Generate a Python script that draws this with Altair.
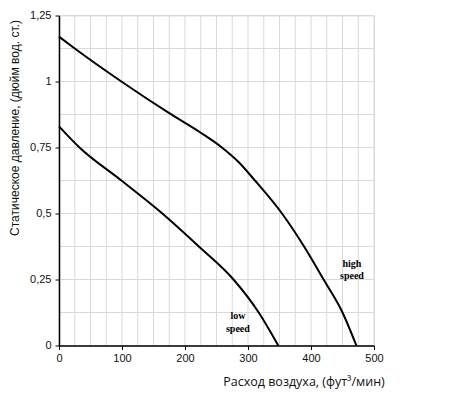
import altair as alt
import pandas as pd

# data
high_x = [0, 25, 99, 175, 225, 257, 285, 311, 354, 389, 420, 450, 472]
high_y = [1.17, 1.125, 1.0, 0.88, 0.806, 0.753, 0.695, 0.625, 0.5, 0.375, 0.25, 0.125, 0.0]
low_x = [0, 32.5, 99, 164, 222, 277, 317, 348]
low_y = [0.83, 0.75, 0.625, 0.5, 0.375, 0.25, 0.125, 0.0]

label_text = ["high", "speed", "low", "speed"]
label_x = [465, 465, 284, 284]
label_y = [0.309, 0.264, 0.112, 0.062]

x_grid = list(range(0, 501, 25))
y_grid = [i * 0.125 for i in range(11)]
x_ticks = [0, 100, 200, 300, 400, 500]
y_ticks = [0, 0.25, 0.5, 0.75, 1, 1.25]

x_title = "Расход воздуха, (фут³/мин)"
y_title = "Статическое давление, (дюйм вод. ст.)"

df = pd.concat([
    pd.DataFrame({"x": high_x, "y": high_y, "s": "high"}),
    pd.DataFrame({"x": low_x, "y": low_y, "s": "low"}),
])
lab = pd.DataFrame({"t": label_text, "x": label_x, "y": label_y})
gx = pd.DataFrame({"x": x_grid})
gy = pd.DataFrame({"y": y_grid})

xs = alt.Scale(domain=[0, 500], nice=False, zero=False)
ys = alt.Scale(domain=[0, 1.25], nice=False, zero=False)

x_axis = alt.Axis(
    values=x_ticks, grid=False, labelFlush=False, zindex=1,
    tickColor="black", tickSize=4, tickWidth=1,
    domainColor="black", domainWidth=1.5,
    labelFont="Liberation Sans", labelFontSize=11, labelColor="#111", labelPadding=3,
    title=x_title, titleFont="Open Sans", titleFontSize=12.5, titleFontWeight="normal",
    titleColor="#111", titleX=244.5, titleY=36, titleBaseline="middle", titleAlign="center",
    titleLimit=0,
)
y_axis = alt.Axis(
    values=y_ticks, grid=False, labelFlush=False, zindex=1,
    labelExpr="replace(toString(datum.value), '.', ',')",
    tickColor="black", tickSize=4, tickWidth=1,
    domainColor="black", domainWidth=1.5,
    labelFont="Liberation Sans", labelFontSize=11, labelColor="#111", labelPadding=4,
    title=y_title, titleFont="Liberation Sans", titleFontSize=12, titleFontWeight="normal",
    titleColor="#111", titleX=-45, titleY=112, titleBaseline="middle", titleAlign="center",
    titleAngle=270, titleLimit=0,
)

grid_v = alt.Chart(gx).mark_rule(color="#d9d9d9", strokeWidth=1).encode(
    x=alt.X("x:Q", scale=xs, axis=x_axis),
)
grid_h = alt.Chart(gy).mark_rule(color="#d9d9d9", strokeWidth=1).encode(
    y=alt.Y("y:Q", scale=ys, axis=y_axis),
)

lines = alt.Chart(df).mark_line(color="black", strokeWidth=2, interpolate="monotone").encode(
    x=alt.X("x:Q", scale=xs, axis=x_axis),
    y=alt.Y("y:Q", scale=ys, axis=y_axis),
    detail="s:N",
)

texts = alt.Chart(lab).mark_text(
    font="Liberation Serif", fontWeight="bold", fontSize=10, color="black", baseline="middle"
).encode(
    x=alt.X("x:Q", scale=xs, axis=x_axis),
    y=alt.Y("y:Q", scale=ys, axis=y_axis),
    text="t:N",
)

chart = alt.layer(grid_v, grid_h, lines, texts).properties(
    width=315, height=330,
    autosize=alt.AutoSizeParams(type="none"),
    padding={"left": 51, "top": 7.5, "right": 68, "bottom": 52},
).configure_view(stroke="#999", strokeWidth=1).configure(background="white")

chart.save("out.html", embed_options={"renderer": "svg", "actions": False})
